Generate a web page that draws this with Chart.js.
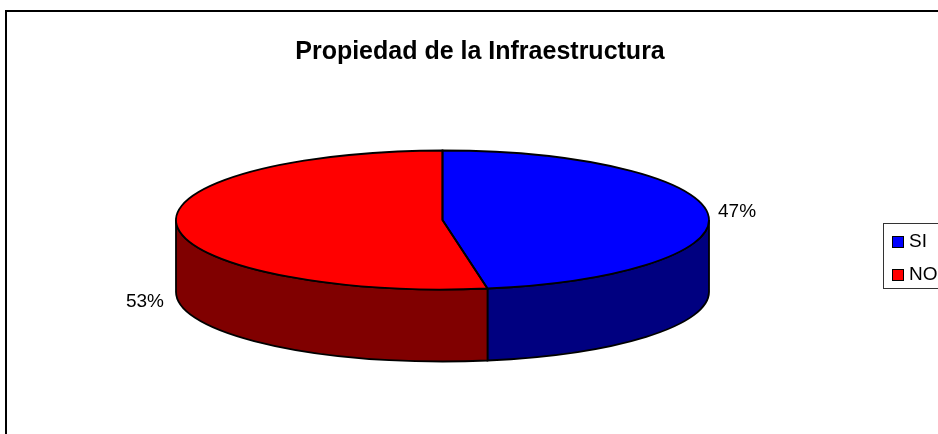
<!DOCTYPE html>
<html>
<head>
<meta charset="utf-8">
<title>Propiedad de la Infraestructura</title>
<script src="https://cdn.jsdelivr.net/npm/chart.js@4/dist/chart.umd.min.js"></script>
<style>
html, body { margin: 0; padding: 0; background: #fff; overflow: hidden; }
canvas { display: block; }
</style>
</head>
<body>
<canvas id="pie3d" width="938" height="434"></canvas>
<script>
var categories = ["SI", "NO"];
var values = [47.3, 52.7];
var topColors = ["#0000FF", "#FF0000"];
var wallColors = ["#000080", "#800000"];

var chartTitle = "Propiedad de la Infraestructura";
var fontName = "'Liberation Sans', Arial, sans-serif";

// the tilted disc, in canvas pixels
var disc = { cx: 442.5, cy: 220, rx: 266.5, ry: 69.5, depth: 72 };
var legendBox = { x: 883.5, y: 223.5, w: 100, h: 65 };
var outlineWidth = 1.8;

function arcsOf(chart) {
	return chart.getDatasetMeta(0).data;
}

function squash(ctx, chart) {
	var arc = arcsOf(chart)[0];
	ctx.translate(disc.cx, disc.cy);
	ctx.scale(disc.rx / arc.outerRadius, disc.ry / arc.outerRadius);
	ctx.translate(-arc.x, -arc.y);
}

// legend swatch with a black edge, drawn by chart.js as an image point style
function makeSwatch(color) {
	var c = document.createElement("canvas");
	c.width = 12;
	c.height = 12;
	var g = c.getContext("2d");
	g.fillStyle = color;
	g.fillRect(0.5, 0.5, 11, 11);
	g.strokeStyle = "#000";
	g.lineWidth = 1;
	g.strokeRect(0.5, 0.5, 11, 11);
	return c;
}

// chart.js has no 3d pie, so the arcs get flattened and the side wall added here
var pie3dPlugin = {
	id: "pie3d",
	beforeDatasetsDraw: function (chart) {
		var ctx = chart.ctx;
		arcsOf(chart).forEach(function (arc, i) {
			var from = Math.max(arc.startAngle, 0);
			var to = Math.min(arc.endAngle, Math.PI);
			if (to <= from) return;
			ctx.beginPath();
			ctx.ellipse(disc.cx, disc.cy, disc.rx, disc.ry, 0, from, to);
			ctx.ellipse(disc.cx, disc.cy + disc.depth, disc.rx, disc.ry, 0, to, from, true);
			ctx.closePath();
			ctx.fillStyle = wallColors[i];
			ctx.fill();
			ctx.strokeStyle = "#000";
			ctx.lineWidth = outlineWidth;
			ctx.stroke();
		});
	},
	beforeDatasetDraw: function (chart) {
		chart.ctx.save();
		squash(chart.ctx, chart);
	},
	afterDatasetDraw: function (chart) {
		var ctx = chart.ctx;
		ctx.restore();
		arcsOf(chart).forEach(function (arc) {
			ctx.beginPath();
			ctx.moveTo(disc.cx, disc.cy);
			ctx.ellipse(disc.cx, disc.cy, disc.rx, disc.ry, 0, arc.startAngle, arc.endAngle);
			ctx.closePath();
			ctx.strokeStyle = "#000";
			ctx.lineWidth = outlineWidth;
			ctx.stroke();
		});
	},
	afterDatasetsDraw: function (chart) {
		var ctx = chart.ctx;
		ctx.font = "19px " + fontName;
		ctx.fillStyle = "#000";
		ctx.textBaseline = "middle";
		arcsOf(chart).forEach(function (arc, i) {
			var mid = (arc.startAngle + arc.endAngle) / 2;
			var x = disc.cx + disc.rx * Math.cos(mid);
			var y = disc.cy + disc.ry * Math.sin(mid);
			var right = Math.cos(mid) > 0;
			var text = Math.round(values[i]) + "%";
			ctx.textAlign = right ? "left" : "right";
			if (right) {
				ctx.fillText(text, x + 10, y - 2);
			} else {
				ctx.fillText(text, x - 13, y + disc.depth + 4);
			}
		});
	},
	afterLayout: function (chart) {
		// the legend sits partly off the right edge of the picture
		var legend = chart.legend;
		legend.left = 882.5;
		legend.right = 990;
		legend.top = 218.5;
		legend.bottom = 340;
	},
	afterDraw: function (chart) {
		var ctx = chart.ctx;
		ctx.save();
		ctx.strokeStyle = "#333";
		ctx.lineWidth = 1;
		ctx.strokeRect(legendBox.x, legendBox.y, legendBox.w, legendBox.h);
		ctx.strokeStyle = "#000";
		ctx.lineWidth = 2;
		ctx.beginPath();
		ctx.moveTo(6, 440);
		ctx.lineTo(6, 11);
		ctx.lineTo(945, 11);
		ctx.stroke();
		ctx.restore();
	}
};

var chart = new Chart(document.getElementById("pie3d"), {
	type: "pie",
	data: {
		labels: categories,
		datasets: [{
			data: values,
			backgroundColor: topColors,
			borderWidth: 0,
			clip: false
		}]
	},
	options: {
		responsive: false,
		animation: false,
		layout: { padding: { left: 22 } },
		plugins: {
			title: {
				display: true,
				text: chartTitle,
				color: "#000",
				font: { family: fontName, size: 25, weight: "bold" },
				padding: { top: 37, bottom: 10 }
			},
			legend: {
				display: true,
				position: "right",
				align: "start",
				labels: {
					color: "#000",
					font: { family: fontName, size: 19 },
					usePointStyle: true,
					pointStyleWidth: 3,
					padding: 14,
					generateLabels: function (c) {
						var items = Chart.overrides.pie.plugins.legend.labels.generateLabels(c);
						items.forEach(function (item, i) {
							item.pointStyle = makeSwatch(topColors[i]);
						});
						return items;
					}
				}
			},
			tooltip: { enabled: false }
		}
	},
	plugins: [pie3dPlugin]
});
</script>
</body>
</html>
